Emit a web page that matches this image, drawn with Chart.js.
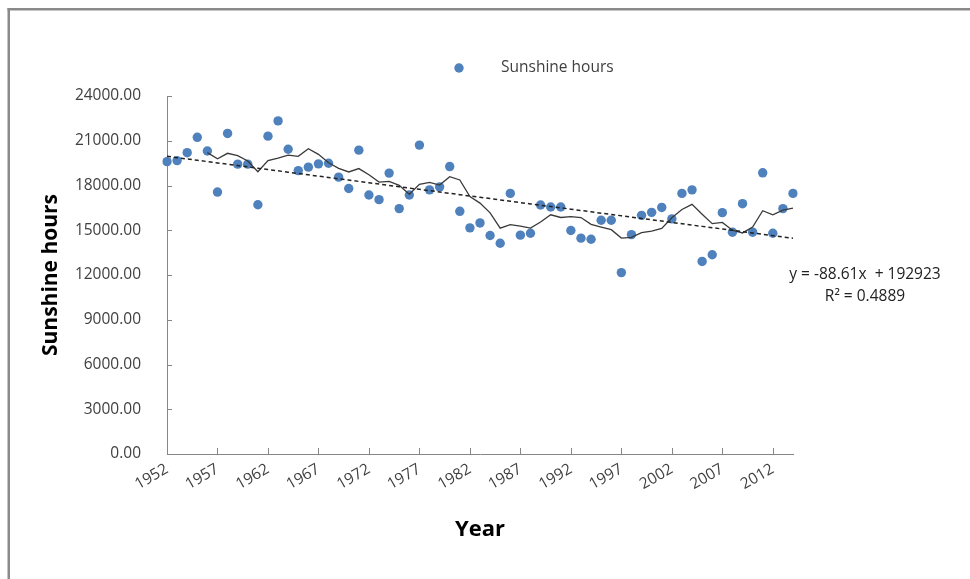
<!DOCTYPE html>
<html>
<head>
<meta charset="utf-8">
<script src="https://cdn.jsdelivr.net/npm/chart.js@4/dist/chart.umd.min.js"></script>
<style>
  html, body { margin: 0; padding: 0; background: #fff; }
  #wrap { width: 970px; height: 579px; position: relative; }
</style>
</head>
<body>
<div id="wrap"><canvas id="c" width="970" height="579"></canvas></div>
<script>
// Annual sunshine hours, 1952-2014
const years = [
  '1952','1953','1954','1955','1956','1957','1958','1959','1960','1961',
  '1962','1963','1964','1965','1966','1967','1968','1969','1970','1971',
  '1972','1973','1974','1975','1976','1977','1978','1979','1980','1981',
  '1982','1983','1984','1985','1986','1987','1988','1989','1990','1991',
  '1992','1993','1994','1995','1996','1997','1998','1999','2000','2001',
  '2002','2003','2004','2005','2006','2007','2008','2009','2010','2011',
  '2012','2013','2014'
];
const sunshineHours = [
  19600, 19670, 20200, 21230, 20310, 17560, 21490, 19430, 19430, 16710,
  21310, 22330, 20430, 19000, 19230, 19450, 19490, 18560, 17800, 20370,
  17360, 17050, 18830, 16450, 17360, 20710, 17710, 17910, 19270, 16270,
  15160, 15490, 14650, 14130, 17470, 14670, 14800, 16690, 16560, 16560,
  14980, 14470, 14400, 15670, 15670, 12160, 14710, 16000, 16200, 16530,
  15760, 17470, 17710, 12910, 13360, 16180, 14870, 16780, 14870, 18850,
  14800, 16450, 17470
];

// Linear trend (as stated in the equation label) and moving-average period
const trendSlope = -88.61;
const trendIntercept = 192923;
const trendR2 = 0.4889;
const maPeriod = 5;

// Axis settings
const yMin = 0, yMax = 24000, yStep = 3000;
const labelEvery = 5;

const seriesName = 'Sunshine hours';
const pointColor = '#4F81BD';

const movingAvg = sunshineHours.map((v, i) => {
  if (i < maPeriod - 1) return null;
  let s = 0;
  for (let k = i - maPeriod + 1; k <= i; k++) s += sunshineHours[k];
  return s / maPeriod;
});
const trendLine = years.map(y => trendSlope * Number(y) + trendIntercept);

Chart.defaults.font.family = "'Open Sans', 'DejaVu Sans', sans-serif";

// White background and the grey frame along the top and left
const framePlugin = {
  id: 'frame',
  beforeDraw(chart) {
    const ctx = chart.ctx;
    ctx.save();
    ctx.fillStyle = '#fff';
    ctx.fillRect(0, 0, chart.width, chart.height);
    ctx.fillStyle = '#8a8a8a';
    ctx.fillRect(7.5, 8, 2.5, chart.height - 8);
    ctx.fillRect(7.5, 8, chart.width - 7.5, 2.5);
    ctx.restore();
  }
};

// Inside tick marks on both axes
const innerTicksPlugin = {
  id: 'innerTicks',
  afterDraw(chart) {
    const ctx = chart.ctx;
    const { x, y } = chart.scales;
    const area = chart.chartArea;
    ctx.save();
    ctx.strokeStyle = '#868686';
    ctx.lineWidth = 1;
    ctx.beginPath();
    y.ticks.forEach(t => {
      const py = Math.round(y.getPixelForValue(t.value)) + 0.5;
      ctx.moveTo(area.left, py);
      ctx.lineTo(area.left + 5, py);
    });
    years.forEach((lab, i) => {
      if (i % labelEvery !== 0) return;
      const px = Math.round(x.getPixelForValue(i)) + 0.5;
      ctx.moveTo(px, area.bottom);
      ctx.lineTo(px, area.bottom - 6);
    });
    ctx.stroke();
    ctx.restore();
  }
};

// Legend entry and trend equation text
const annotationsPlugin = {
  id: 'annotations',
  afterDraw(chart) {
    const ctx = chart.ctx;
    ctx.save();
    ctx.fillStyle = pointColor;
    ctx.beginPath();
    ctx.arc(459, 68, 4.7, 0, Math.PI * 2);
    ctx.fill();
    ctx.font = "15.5px 'Open Sans', 'DejaVu Sans', sans-serif";
    ctx.fillStyle = '#404040';
    ctx.textBaseline = 'middle';
    ctx.textAlign = 'left';
    ctx.fillText(seriesName, 501, 68);

    ctx.fillStyle = '#222';
    ctx.textAlign = 'center';
    const eq = 'y = ' + trendSlope.toFixed(2) + 'x  + ' + trendIntercept;
    ctx.fillText(eq, 865, 275);
    ctx.fillText('R\u00B2 = ' + trendR2.toFixed(4), 865, 297);
    ctx.restore();
  }
};

new Chart(document.getElementById('c'), {
  type: 'line',
  data: {
    labels: years,
    datasets: [
      {
        label: 'Trend',
        data: trendLine,
        borderColor: '#222',
        borderWidth: 1.5,
        borderDash: [4, 3],
        pointRadius: 0,
        fill: false,
        order: 1
      },
      {
        label: 'Moving average',
        data: movingAvg,
        borderColor: '#3a3a3a',
        borderWidth: 1.3,
        pointRadius: 0,
        tension: 0,
        fill: false,
        order: 2
      },
      {
        label: seriesName,
        data: sunshineHours,
        showLine: false,
        pointRadius: 4.7,
        pointHoverRadius: 4.7,
        pointBorderWidth: 0,
        pointBackgroundColor: pointColor,
        borderColor: pointColor,
        order: 3
      }
    ]
  },
  options: {
    responsive: false,
    animation: false,
    devicePixelRatio: 1,
    layout: { padding: { left: 0, right: 177, top: 96, bottom: 0 } },
    plugins: {
      legend: { display: false },
      tooltip: { enabled: false }
    },
    scales: {
      x: {
        type: 'category',
        offset: false,
        grid: { display: false, drawTicks: false },
        border: { display: true, color: '#868686', width: 1 },
        ticks: {
          autoSkip: false,
          maxRotation: 30,
          minRotation: 30,
          padding: 6,
          color: '#404040',
          font: { size: 15.5 },
          callback(v, i) { return i % labelEvery === 0 ? years[i] : ''; }
        },
        title: {
          display: true,
          text: 'Year',
          color: '#000',
          font: { size: 22, weight: 'bold' },
          padding: { top: 0, bottom: 36 }
        },
        afterFit(s) { s.height = 125; }
      },
      y: {
        min: yMin,
        max: yMax,
        grid: { display: false, drawTicks: false },
        border: { display: true, color: '#868686', width: 1 },
        ticks: {
          stepSize: yStep,
          padding: 26,
          color: '#404040',
          font: { size: 15.5 },
          callback: v => Number(v).toFixed(2)
        },
        title: {
          display: true,
          text: 'Sunshine hours',
          color: '#000',
          font: { size: 21, weight: 'bold' },
          padding: { top: 38, bottom: 0 }
        },
        afterFit(s) { s.width = 167; }
      }
    }
  },
  plugins: [framePlugin, innerTicksPlugin, annotationsPlugin]
});
</script>
</body>
</html>
